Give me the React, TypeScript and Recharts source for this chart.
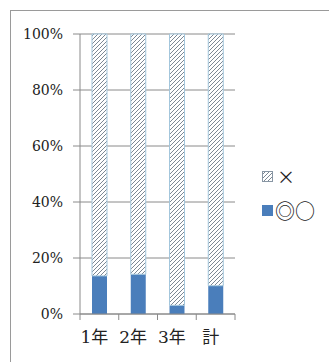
import { Bar, BarChart, CartesianGrid, XAxis, YAxis } from "recharts";

const grades = ["1年", "2年", "3年", "計"];
const goodShare = [13.6, 14.2, 3.1, 10.1];
const badShare = [86.4, 85.8, 96.9, 89.9];
const percentTicks = [0, 20, 40, 60, 80, 100];

const data = grades.map((grade, i) => ({
  grade,
  good: goodShare[i],
  bad: badShare[i],
}));

const BLUE = "#4a7ebb";
const HATCH_EDGE = "#a3c6dc";
const AXIS_GRAY = "#8a8a8a";
const LABEL_FONT = "'DejaVu Serif', 'Noto Sans CJK JP', serif";

// category label plus the boundary tick marks Excel puts between columns
function GradeTick(props: any) {
  const { x, y, payload, index, visibleTicksCount } = props;
  const half = payload.offset ?? 0;
  const axisY = y - 8;
  const isLast = index === visibleTicksCount - 1;
  return (
    <g>
      <line x1={x - half} x2={x - half} y1={axisY} y2={axisY + 6} stroke={AXIS_GRAY} />
      {isLast && (
        <line x1={x + half} x2={x + half} y1={axisY} y2={axisY + 6} stroke={AXIS_GRAY} />
      )}
      <text
        x={x - 5}
        y={axisY + 29}
        textAnchor="middle"
        fontSize={17}
        fill="#222"
        fontFamily={LABEL_FONT}
      >
        {payload.value}
      </text>
    </g>
  );
}

function ShareLegend() {
  const row = { display: "flex", alignItems: "center", height: 22 } as const;
  return (
    <div
      style={{
        position: "absolute",
        left: 262,
        top: 165,
        fontFamily: "'Noto Sans CJK JP', sans-serif",
        fontSize: 18,
        color: "#222",
      }}
    >
      <div style={row}>
        <svg width={11} height={11} style={{ marginRight: 4 }}>
          <rect x={0.5} y={0.5} width={10} height={10} fill="url(#hatch)" stroke="#8896a4" />
        </svg>
        <span>×</span>
      </div>
      <div style={{ ...row, marginTop: 12 }}>
        <svg width={11} height={11} style={{ marginRight: 2 }}>
          <rect x={0} y={0} width={11} height={11} fill={BLUE} />
        </svg>
        <span style={{ fontSize: 20 }}>◎○</span>
      </div>
    </div>
  );
}

export default function App() {
  return (
    <div style={{ position: "absolute", left: 0, top: 0, width: 329, height: 362, background: "#fff" }}>
      <div
        style={{
          position: "absolute",
          left: 10,
          top: 10,
          width: 340,
          height: 370,
          border: "1px solid #9a9a9a",
        }}
      />
      <BarChart
        width={329}
        height={362}
        data={data}
        barSize={15}
        margin={{ top: 34, right: 94, bottom: 0, left: 0 }}
        style={{ position: "absolute", left: 0, top: 0 }}
      >
        <defs>
          <pattern id="hatch" patternUnits="userSpaceOnUse" width={4} height={4}>
            <rect width={4} height={4} fill="#fff" />
            <path d="M-1,1 l2,-2 M0,4 l4,-4 M3,5 l2,-2" stroke="#6e7b88" strokeWidth={0.9} />
          </pattern>
        </defs>
        <CartesianGrid vertical={false} stroke={AXIS_GRAY} />
        <XAxis
          dataKey="grade"
          height={48}
          stroke={AXIS_GRAY}
          tickLine={false}
          tick={<GradeTick />}
          interval={0}
        />
        <YAxis
          width={80}
          domain={[0, 100]}
          ticks={percentTicks}
          tickFormatter={(v) => `${v}%`}
          stroke={AXIS_GRAY}
          tickSize={7}
          tickMargin={10}
          tick={{ fontSize: 14, fill: "#222", fontFamily: LABEL_FONT }}
        />
        <Bar dataKey="good" name="◎○" stackId="share" fill={BLUE} isAnimationActive={false} />
        <Bar
          dataKey="bad"
          name="×"
          stackId="share"
          fill="url(#hatch)"
          stroke={HATCH_EDGE}
          strokeWidth={1}
          isAnimationActive={false}
        />
      </BarChart>
      <ShareLegend />
    </div>
  );
}
